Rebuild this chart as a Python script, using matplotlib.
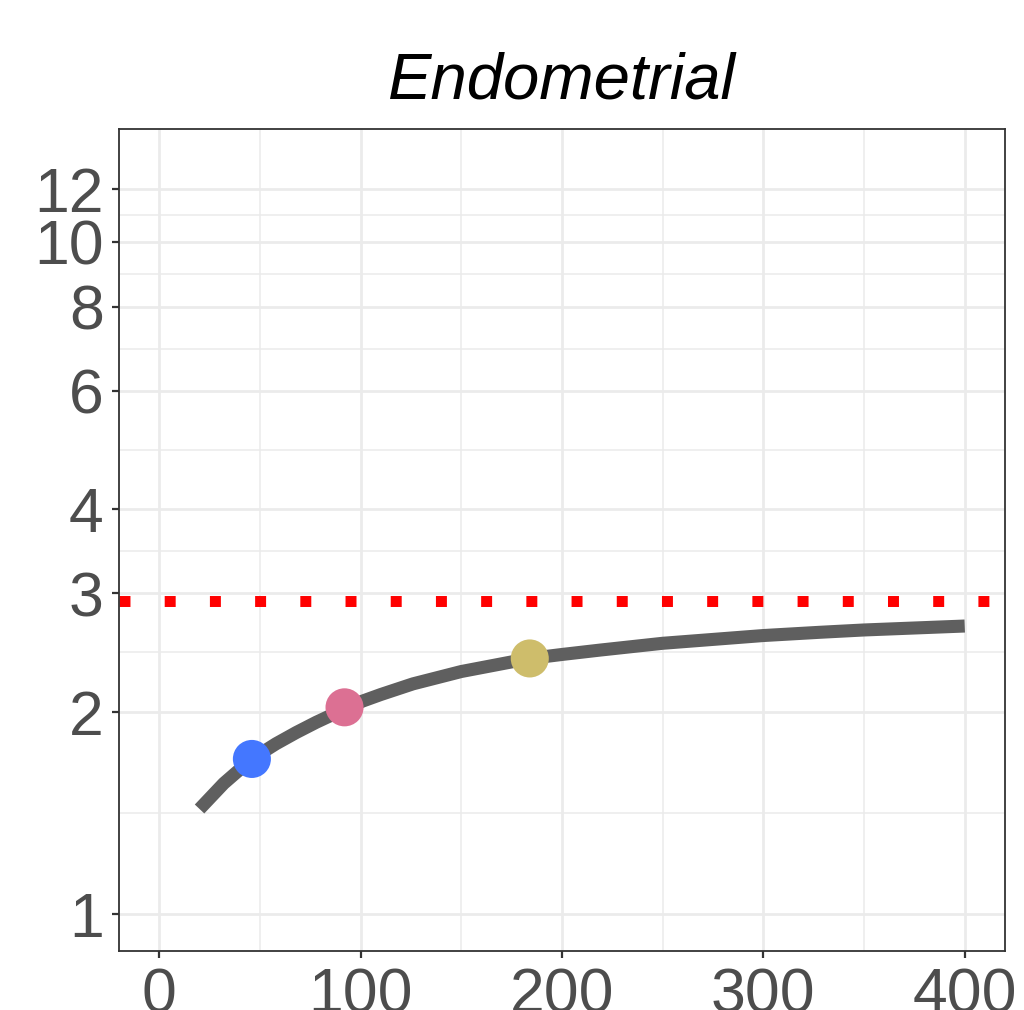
import matplotlib
matplotlib.use("Agg")
import matplotlib.pyplot as plt
import numpy as np

# Data
curve_x = [20, 32, 46, 58, 68, 78, 92, 101, 110, 126, 150, 168, 184, 200, 219, 250, 300, 328, 350, 400]
curve_y = [1.433, 1.564, 1.701, 1.792, 1.862, 1.929, 2.018, 2.074, 2.121, 2.200, 2.295, 2.350,
           2.400, 2.433, 2.470, 2.528, 2.596, 2.625, 2.646, 2.682]
point_x = [46, 92, 184]
point_y = [1.701, 2.03, 2.40]
point_colors = ["#4477FF", "#DC7093", "#CEBD6B"]
ref_level = 2.922
x_ticks = [0, 100, 200, 300, 400]
x_minor = [50, 150, 250, 350]
y_ticks = [1, 2, 3, 4, 6, 8, 10, 12]
title = "Endometrial"

plt.rcParams['font.family'] = ['Liberation Sans', 'DejaVu Sans']

fig = plt.figure(figsize=(10.24, 10.10), dpi=100)
ax = fig.add_axes([119/1024, 1 - 951/1010, (1005-119)/1024, (951-129)/1010])

ax.set_yscale('log')
ax.set_xlim(-20, 420)
ax.set_ylim(0.881, 14.72)

# grid
y_minor = [np.sqrt(a*b) for a, b in zip(y_ticks[:-1], y_ticks[1:])]
ax.set_xticks(x_ticks)
ax.set_xticks(x_minor, minor=True)
ax.set_yticks(y_ticks)
ax.set_yticks(y_minor, minor=True)
ax.set_yticklabels([str(v) for v in y_ticks])
ax.yaxis.set_minor_formatter(matplotlib.ticker.NullFormatter())
ax.grid(which='major', color='#EBEBEB', linewidth=2.0)
ax.grid(which='minor', color='#EBEBEB', linewidth=1.1)
ax.set_axisbelow(True)
ax.tick_params(which='minor', length=0)
ax.tick_params(which='major', length=5, width=1.6, color='#333333',
               labelsize=45, labelcolor='#4D4D4D', pad=6)

for s in ax.spines.values():
    s.set_color('#333333')
    s.set_linewidth(1.3)

ax.axhline(ref_level, color='#FF0000', linewidth=7.9, linestyle=(0, (1, 3.12)),
           dash_capstyle='butt', zorder=2)
ax.plot(curve_x, curve_y, color='#5F5F5F', linewidth=9.4, solid_capstyle='butt',
        solid_joinstyle='round', zorder=3)
ax.scatter(point_x, point_y, s=27.4**2, c=point_colors, edgecolors='none', zorder=4)

ax.set_title(title, fontsize=47, fontstyle='italic', color='black', pad=22)

fig.savefig("out.png", dpi=100)
